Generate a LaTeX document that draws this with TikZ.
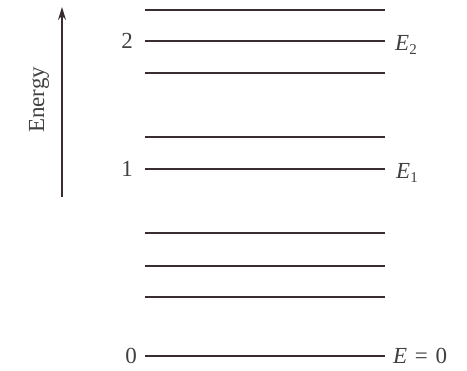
\documentclass[tikz,border=0pt]{standalone}
\usepackage{fontspec}
\setmainfont{Liberation Serif}
\usetikzlibrary{arrows.meta}
\definecolor{lvl}{HTML}{3A2D31}
\definecolor{txt}{HTML}{404040}
\begin{document}
\begin{tikzpicture}[x=1pt,y=1pt,
  level/.style={draw=lvl,line width=2.4pt},
  lab/.style={text=txt,font=\fontsize{23}{26}\selectfont,inner sep=0pt}]
\useasboundingbox (0,0) rectangle (467,371);
% levels
\foreach \n/\py in {a/10,b/41,c/73,d/137,e/169,f/233,g/266,h/297,i/356}{
  \coordinate (\n L) at (145,371-\py);
  \coordinate (\n R) at (385,371-\py);
  \draw[level] (\n L) -- (\n R);
}
% energy arrow
\coordinate (arrB) at (62,174);
\coordinate (arrT) at (62,364);
\draw[draw=lvl,line width=1.5pt,-{Stealth[length=13pt,width=8pt]}] (arrB) -- (arrT);
\node[lab,rotate=90] (energy) at (39,271) {Energy};
% left labels
\node[lab,anchor=east] (n2) at (133,330) {2};
\node[lab,anchor=east] (n1) at (133,202) {1};
\node[lab,anchor=east] (n0) at (137,15) {0};
% right labels
\node[lab,anchor=west] (E2) at (395,326) {\textit{E}\raisebox{-0.4ex}{\fontsize{15}{15}\selectfont 2}};
\node[lab,anchor=west] (E1) at (396,198) {\textit{E}\raisebox{-0.4ex}{\fontsize{15}{15}\selectfont 1}};
\node[lab,anchor=west] (E0) at (393,15) {\textit{E}\,\,=\,\,0};
\end{tikzpicture}
\end{document}
